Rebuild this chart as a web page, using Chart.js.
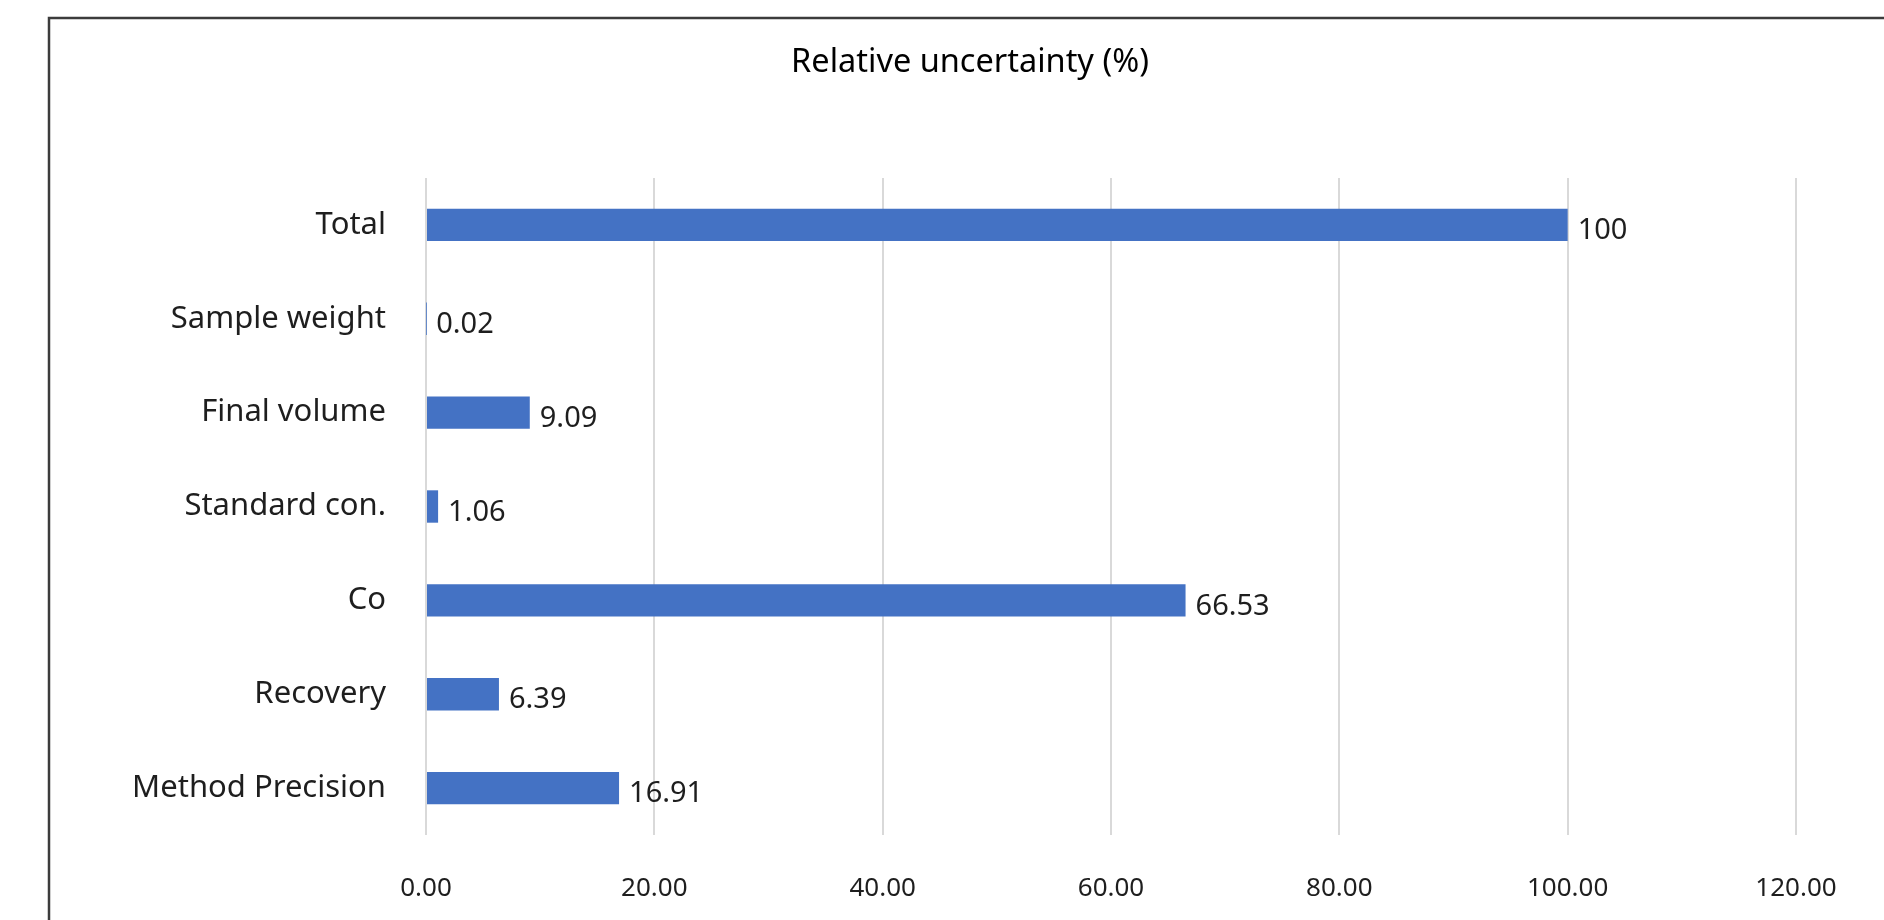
<!DOCTYPE html>
<html>
<head>
<meta charset="utf-8">
<title>Relative uncertainty</title>
<script src="https://cdn.jsdelivr.net/npm/chart.js@4.4.1/dist/chart.umd.min.js"></script>
<style>
  html, body { margin: 0; padding: 0; background: #fff; overflow: hidden; }
  #wrap { position: relative; width: 1884px; height: 920px; }
</style>
</head>
<body>
<div id="wrap"><canvas id="uncChart"></canvas></div>
<script>
// categories, top to bottom
const SOURCES = ['Total', 'Sample weight', 'Final volume', 'Standard con.', 'Co', 'Recovery', 'Method Precision'];
// relative uncertainty, %
const REL_UNCERTAINTY = [100, 0.02, 9.09, 1.06, 66.53, 6.39, 16.91];
const X_MIN = 0;
const X_MAX = 120;
const X_STEP = 20;
const CHART_TITLE = 'Relative uncertainty (%)';

const FONT = '"Noto Sans", "Open Sans", sans-serif';
const BAR_BLUE = '#4472C4';
const TEXT_COLOR = '#1e1e1e';

// white page, outer frame (runs off the right and bottom edges) and the title
let framePlugin = {
  id: 'frame',
  beforeDraw: (chart) => {
    let ctx = chart.ctx;
    ctx.save();
    ctx.fillStyle = '#fff';
    ctx.fillRect(0, 0, chart.width, chart.height);
    ctx.strokeStyle = '#3c3c3c';
    ctx.lineWidth = 2.5;
    ctx.strokeRect(49, 18, 4000, 4000);

    ctx.font = '32.5px ' + FONT;
    ctx.fillStyle = '#000';
    ctx.textAlign = 'center';
    ctx.textBaseline = 'middle';
    ctx.fillText(CHART_TITLE, 970, 63);
    ctx.restore();
  }
};

// value labels at the end of each bar
let valueLabels = {
  id: 'valueLabels',
  afterDatasetsDraw: (chart) => {
    let ctx = chart.ctx;
    let meta = chart.getDatasetMeta(0);
    ctx.save();
    ctx.font = '29px ' + FONT;
    ctx.fillStyle = TEXT_COLOR;
    ctx.textAlign = 'left';
    ctx.textBaseline = 'middle';
    meta.data.forEach((bar, i) => {
      ctx.fillText(String(REL_UNCERTAINTY[i]), bar.x + 10, bar.y + 6);
    });
    ctx.restore();
  }
};

new Chart(document.getElementById('uncChart'), {
  type: 'bar',
  data: {
    labels: SOURCES,
    datasets: [{
      label: CHART_TITLE,
      data: REL_UNCERTAINTY,
      backgroundColor: BAR_BLUE,
      borderWidth: 0,
      categoryPercentage: 1,
      barPercentage: 0.345
    }]
  },
  options: {
    indexAxis: 'y',
    responsive: true,
    maintainAspectRatio: false,
    animation: false,
    layout: {
      padding: {left: 0, right: 88, top: 178, bottom: 0}
    },
    plugins: {
      legend: {display: false},
      tooltip: {enabled: false},
      title: {display: false}
    },
    scales: {
      x: {
        min: X_MIN,
        max: X_MAX,
        border: {display: false},
        grid: {
          color: '#d9d9d9',
          lineWidth: 2,
          drawTicks: false
        },
        ticks: {
          stepSize: X_STEP,
          padding: 38,
          color: TEXT_COLOR,
          font: {family: FONT, size: 26},
          callback: (value) => Number(value).toFixed(2)
        },
        afterFit: (scale) => { scale.height = 85; }
      },
      y: {
        border: {display: false},
        grid: {display: false, drawTicks: false},
        ticks: {
          padding: 40,
          color: TEXT_COLOR,
          font: {family: FONT, size: 31}
        },
        afterFit: (scale) => { scale.width = 426; }
      }
    }
  },
  plugins: [framePlugin, valueLabels]
});
</script>
</body>
</html>
